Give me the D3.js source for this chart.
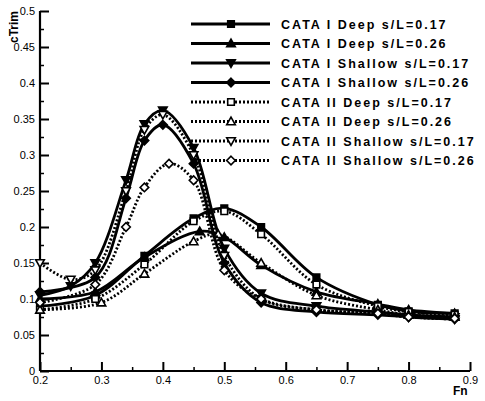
<!DOCTYPE html>
<html>
<head>
<meta charset="utf-8">
<script src="https://cdn.jsdelivr.net/npm/d3@7"></script>
<style>
  body { margin: 0; background: #fff; }
  svg { display: block; font-family: "Liberation Sans", Arial, sans-serif; }
</style>
</head>
<body>
<div id="chart"></div>
<script>
// series names, in legend order
const names = [
  "CATA I Deep s/L=0.17", "CATA I Deep s/L=0.26",
  "CATA I Shallow s/L=0.17", "CATA I Shallow s/L=0.26",
  "CATA II Deep s/L=0.17", "CATA II Deep s/L=0.26",
  "CATA II Shallow s/L=0.17", "CATA II Shallow s/L=0.26"
];
const markers = ["square", "triangle", "invtriangle", "diamond", "square", "triangle", "invtriangle", "diamond"];

// [Fn, cTrim] pairs
const cataIDeep17 = [[0.2,0.09],[0.29,0.105],[0.37,0.16],[0.45,0.212],[0.5,0.226],[0.56,0.2],[0.65,0.13],[0.75,0.092],[0.8,0.083],[0.875,0.08]];
const cataIDeep26 = [[0.2,0.1],[0.29,0.11],[0.37,0.158],[0.46,0.194],[0.5,0.186],[0.56,0.147],[0.65,0.11],[0.75,0.093],[0.8,0.085],[0.875,0.08]];
const cataIShal17 = [[0.2,0.105],[0.25,0.118],[0.29,0.15],[0.34,0.265],[0.37,0.343],[0.4,0.362],[0.45,0.31],[0.5,0.17],[0.56,0.108],[0.65,0.09],[0.75,0.082],[0.8,0.078],[0.875,0.075]];
const cataIShal26 = [[0.2,0.11],[0.29,0.13],[0.34,0.24],[0.37,0.32],[0.4,0.342],[0.45,0.288],[0.5,0.15],[0.56,0.095],[0.65,0.082],[0.75,0.078],[0.8,0.075],[0.875,0.072]];
const cataIIDeep17 = [[0.2,0.085],[0.29,0.1],[0.37,0.148],[0.45,0.208],[0.5,0.222],[0.56,0.19],[0.65,0.12],[0.75,0.09],[0.8,0.082],[0.875,0.078]];
const cataIIDeep26 = [[0.2,0.085],[0.3,0.095],[0.37,0.135],[0.45,0.18],[0.49,0.19],[0.56,0.15],[0.65,0.105],[0.75,0.085],[0.8,0.078],[0.875,0.075]];
const cataIIShal17 = [[0.2,0.15],[0.25,0.127],[0.29,0.14],[0.34,0.25],[0.37,0.335],[0.4,0.356],[0.45,0.3],[0.5,0.16],[0.56,0.1],[0.65,0.085],[0.75,0.08],[0.8,0.075],[0.875,0.072]];
const cataIIShal26 = [[0.2,0.095],[0.29,0.12],[0.34,0.2],[0.37,0.255],[0.41,0.288],[0.45,0.265],[0.5,0.14],[0.56,0.1],[0.65,0.085],[0.75,0.08],[0.8,0.075],[0.875,0.073]];
const series = [cataIDeep17, cataIDeep26, cataIShal17, cataIShal26, cataIIDeep17, cataIIDeep26, cataIIShal17, cataIIShal26];

const xTicks = [0.2, 0.3, 0.4, 0.5, 0.6, 0.7, 0.8, 0.9];
const yTicks = [0, 0.05, 0.1, 0.15, 0.2, 0.25, 0.3, 0.35, 0.4, 0.45, 0.5];

const fullWidth = 485, fullHeight = 401;
const margin = { top: 11, right: 15, bottom: 30, left: 40 };
const width = fullWidth - margin.left - margin.right;
const height = fullHeight - margin.top - margin.bottom;

const svg = d3.select('#chart').append('svg')
  .attr('width', fullWidth)
  .attr('height', fullHeight);
const g = svg.append('g').attr('transform', `translate(${margin.left},${margin.top})`);

const x = d3.scaleLinear().domain([0.2, 0.9]).range([0, width]);
const y = d3.scaleLinear().domain([0, 0.5]).range([height, 0]);

const fmt = d => d === 0 ? "0" : String(d);

// minor ticks first
g.append('g').attr('transform', `translate(0,${height})`)
  .call(d3.axisTop(x).tickValues(d3.range(0.25, 0.9, 0.1)).tickSize(4).tickFormat(''))
  .call(a => a.select('.domain').remove())
  .selectAll('line').attr('stroke-width', 1.5);
g.append('g')
  .call(d3.axisRight(y).tickValues(d3.range(0.025, 0.5, 0.05)).tickSize(4).tickFormat(''))
  .call(a => a.select('.domain').remove())
  .selectAll('line').attr('stroke-width', 1.5);

// major ticks, pointing inward, labels placed outside
const xAxis = g.append('g').attr('transform', `translate(0,${height})`)
  .call(d3.axisTop(x).tickValues(xTicks).tickSize(9).tickFormat(fmt));
xAxis.select('.domain').attr('stroke-width', 2.2).attr('d', `M0,0H${width}`);
xAxis.selectAll('line').attr('stroke-width', 2);
xAxis.selectAll('text').attr('y', 13).attr('dy', 0).attr('font-size', 11).attr('fill', '#000');

const yAxis = g.append('g')
  .call(d3.axisRight(y).tickValues(yTicks).tickSize(9).tickFormat(fmt));
yAxis.select('.domain').attr('stroke-width', 2.2).attr('d', `M0,0V${height}`);
yAxis.selectAll('line').attr('stroke-width', 2);
yAxis.selectAll('text').attr('x', -5).attr('text-anchor', 'end').attr('font-size', 11).attr('fill', '#000');

svg.append('text')
  .attr('transform', 'translate(18,43) rotate(-90)')
  .attr('font-size', 12).attr('font-weight', 'bold')
  .text('cTrim');
svg.append('text')
  .attr('x', 453).attr('y', 395)
  .attr('font-size', 12).attr('font-weight', 'bold')
  .text('Fn');

const line = d3.line()
  .x(d => x(d[0]))
  .y(d => y(d[1]))
  .curve(d3.curveCatmullRom.alpha(0.5));

function marker(sel, kind, filled) {
  const s = 3.3;
  let p;
  if (kind === 'square') p = `M${-s},${-s}H${s}V${s}H${-s}Z`;
  else if (kind === 'triangle') p = `M0,${-s - 1}L${s + 1},${s}L${-s - 1},${s}Z`;
  else if (kind === 'invtriangle') p = `M0,${s + 1}L${s + 1},${-s}L${-s - 1},${-s}Z`;
  else p = `M0,${-s - 1}L${s + 1},0L0,${s + 1}L${-s - 1},0Z`;
  sel.append('path').attr('d', p)
    .attr('fill', filled ? '#000' : '#fff')
    .attr('stroke', '#000').attr('stroke-width', 1.6);
}

series.forEach((data, i) => {
  const dotted = i >= 4;
  g.append('path').datum(data)
    .attr('d', line)
    .attr('fill', 'none').attr('stroke', '#000')
    .attr('stroke-width', 2.8)
    .attr('stroke-dasharray', dotted ? '2,2' : null);
  data.forEach(d => {
    const m = g.append('g').attr('transform', `translate(${x(d[0])},${y(d[1])})`);
    marker(m, markers[i], !dotted);
  });
});

// legend
const legend = svg.append('g');
names.forEach((n, i) => {
  const ly = 24 + i * 19.5;
  const dotted = i >= 4;
  legend.append('line')
    .attr('x1', 191).attr('x2', 270).attr('y1', ly).attr('y2', ly)
    .attr('stroke', '#000').attr('stroke-width', 2.8)
    .attr('stroke-dasharray', dotted ? '2,2' : null);
  const m = legend.append('g').attr('transform', `translate(231,${ly})`);
  marker(m, markers[i], !dotted);
  legend.append('text')
    .attr('x', 281).attr('y', ly + 4.5)
    .attr('font-size', 12.5).attr('font-weight', 'bold')
    .attr('letter-spacing', 2)
    .text(n);
});
</script>
</body>
</html>
